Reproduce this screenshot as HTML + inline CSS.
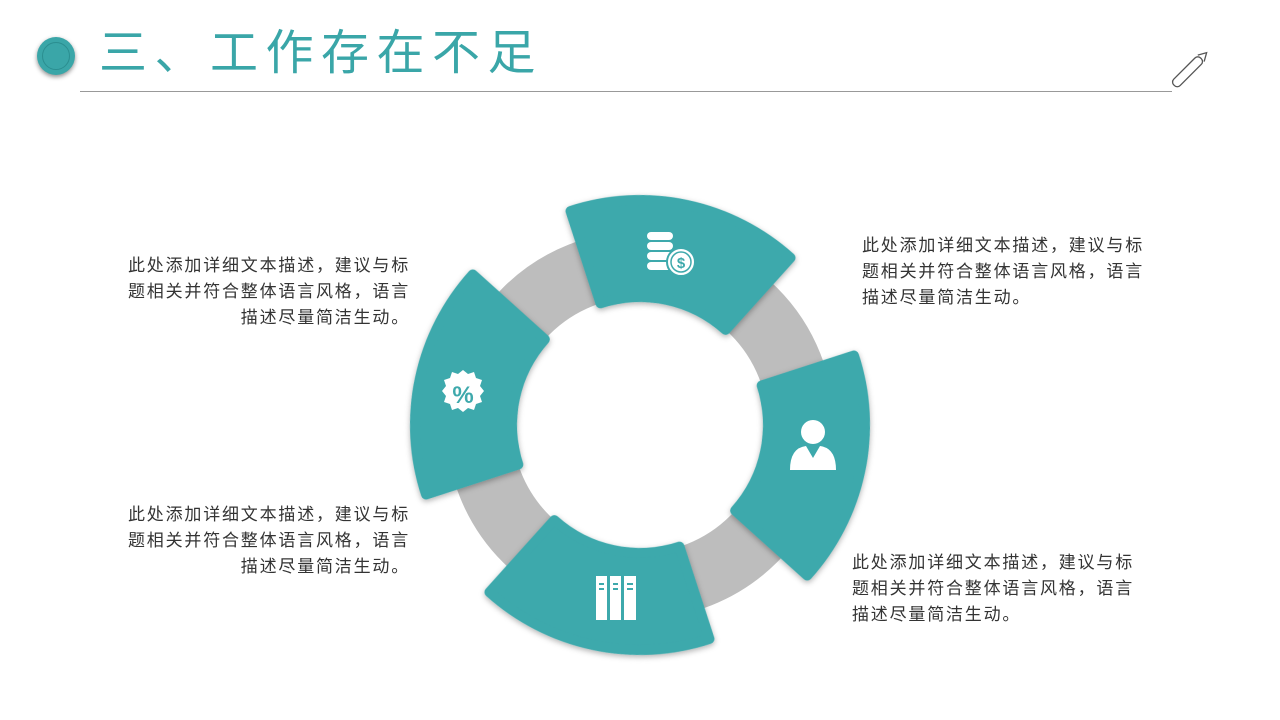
<!DOCTYPE html>
<html><head><meta charset="utf-8"><style>
html,body{margin:0;padding:0;background:#fff;}
body{width:1280px;height:720px;position:relative;overflow:hidden;font-family:"Liberation Sans","Noto Sans CJK SC",sans-serif;}
.title{position:absolute;left:99px;top:24px;font-size:48px;color:#3aa6a8;letter-spacing:7.5px;line-height:60px;white-space:nowrap;}
.dot{position:absolute;left:37px;top:37px;width:38px;height:38px;border-radius:50%;background:#3aa6a8;box-shadow:0 2px 5px rgba(0,0,0,.45);}
.dot:after{content:"";position:absolute;left:5px;top:5px;width:26px;height:26px;border-radius:50%;border:1px solid #2b8e90;}
.line{position:absolute;left:80px;top:91px;width:1092px;height:1px;background:#999;}
.txt{position:absolute;font-size:17px;line-height:26px;color:#333;width:320px;white-space:nowrap;letter-spacing:1.8px;}
.r{text-align:right;}
</style></head><body>
<div class="dot"></div>
<div class="title">三、工作存在不足</div>
<div class="line"></div>
<svg style="position:absolute;left:1165px;top:45px" width="50" height="50"><g transform="rotate(-45 25 25)"><rect x="3" y="20" width="38" height="9" rx="4" fill="#fff" stroke="#555" stroke-width="1.3"/><path d="M41 20 L49 24.5 L41 29" fill="none" stroke="#555" stroke-width="1.3"/></g></svg>

<div class="txt r" style="left:90px;top:253px;">此处添加详细文本描述，建议与标<br>题相关并符合整体语言风格，语言<br>描述尽量简洁生动。</div>
<div class="txt r" style="left:90px;top:502px;">此处添加详细文本描述，建议与标<br>题相关并符合整体语言风格，语言<br>描述尽量简洁生动。</div>
<div class="txt" style="left:862px;top:233px;">此处添加详细文本描述，建议与标<br>题相关并符合整体语言风格，语言<br>描述尽量简洁生动。</div>
<div class="txt" style="left:852px;top:550px;">此处添加详细文本描述，建议与标<br>题相关并符合整体语言风格，语言<br>描述尽量简洁生动。</div>

<svg style="position:absolute;left:0;top:0" width="1280" height="720">
<defs><filter id="sh" x="-20%" y="-20%" width="140%" height="140%"><feDropShadow dx="0" dy="2" stdDeviation="3" flood-color="#000" flood-opacity="0.3"/></filter></defs>
<circle cx="640" cy="425" r="161" fill="none" stroke="#bdbdbd" stroke-width="66"/>
<g filter="url(#sh)" fill="#3ea9ac" transform="rotate(-3 640 425)">
<path id="seg" d="M581.8 207.7 A225 225 0 0 1 799.1 265.9 L730.5 334.5 A128 128 0 0 0 606.9 301.4 Z" stroke="#3ea9ac" stroke-width="10" stroke-linejoin="round"/>
<use href="#seg" transform="rotate(90 640 425)"/>
<use href="#seg" transform="rotate(180 640 425)"/>
<use href="#seg" transform="rotate(270 640 425)"/>
</g>
<g fill="#fff">
<rect x="647" y="232" width="26" height="8" rx="4"/><rect x="647" y="242" width="26" height="8" rx="4"/><rect x="647" y="252" width="26" height="8" rx="4"/><rect x="647" y="262" width="26" height="8" rx="4"/>
<circle cx="681" cy="262" r="14" stroke="#3ea9ac" stroke-width="2"/>
<circle cx="681" cy="262" r="10" fill="none" stroke="#3ea9ac" stroke-width="1.5"/>
<text x="681" y="268" font-size="15" font-weight="bold" fill="#3ea9ac" text-anchor="middle" font-family="Liberation Sans">$</text>
<circle cx="813" cy="432" r="12"/>
<path d="M790 470 Q790 448 806 446 L813 458 L820 446 Q836 448 836 470 Z"/>
<rect x="596" y="576" width="11" height="44"/><rect x="610" y="576" width="11" height="44"/><rect x="624" y="576" width="12" height="44"/>
<path d="M463 370 l5 4 6-2 2 6 6 2-2 6 4 5-4 5 2 6-6 2-2 6-6-2-5 4-5-4-6 2-2-6-6-2 2-6-4-5 4-5-2-6 6-2 2-6 6 2z"/>
<text x="463" y="403" font-size="24" font-weight="bold" fill="#3ea9ac" text-anchor="middle" font-family="Liberation Sans">%</text>
</g>
<g fill="#3ea9ac"><rect x="599" y="583" width="5" height="2"/><rect x="599" y="588" width="5" height="2"/><rect x="613" y="583" width="5" height="2"/><rect x="613" y="588" width="5" height="2"/><rect x="627" y="583" width="6" height="2"/><rect x="627" y="588" width="6" height="2"/></g>
</svg>
</body></html>
